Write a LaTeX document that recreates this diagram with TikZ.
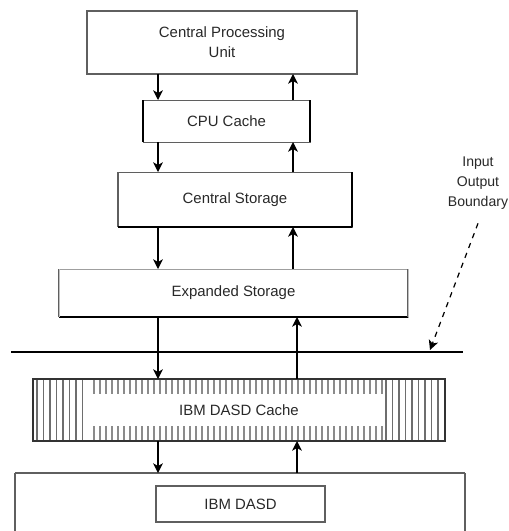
\documentclass[tikz,border=0pt]{standalone}
\usepackage{fontspec}
\setmainfont{Liberation Sans}
\usetikzlibrary{arrows.meta}
\definecolor{StoreGray}{RGB}{95, 95, 95}
\definecolor{StoreHatch}{RGB}{110, 110, 110}
\definecolor{StoreText}{RGB}{40, 40, 40}

\tikzset{
    unitbox/.style={draw=StoreGray, line width=0.5pt, outer sep=0pt, inner sep=0pt, align=center, text=StoreText},
    flow/.style={-{Stealth[length=5.5pt, width=5.5pt, inset=1.5pt]}, line width=0.85pt},
    heavyedge/.style={line width=1.6pt},
    hatch/.style={StoreHatch, line width=0.6pt}
}

\begin{document}
\begin{tikzpicture}[x=0.02cm, y=-0.02cm, font=\fontsize{8.5}{11.3}\selectfont]
    \useasboundingbox (0,0) rectangle (509,531);
    \clip (0,0) rectangle (509,531);
    \coordinate (dn) at (158,0);
    \coordinate (up) at (293,0);
    \coordinate (uplow) at (297,0);

    % Central Processing Unit
    \node[unitbox, line width=1.1pt, minimum width=5.4cm, minimum height=1.26cm] (cpu) at (222,42.5) {Central Processing\\Unit};

    % CPU Cache
    \node[unitbox, minimum width=3.34cm, minimum height=0.84cm] (ccache) at (226.5,121) {CPU Cache};
    \draw[heavyedge] (ccache.north west) -- (ccache.south west);
    \draw[heavyedge] (ccache.north east) -- (ccache.south east);

    % Central Storage
    \node[unitbox, minimum width=4.68cm, minimum height=1.1cm] (cstor) at (235,199.5) {Central Storage};
    \draw[StoreGray, line width=1pt] (cstor.north west) -- (cstor.south west);
    \draw[heavyedge] (cstor.north east) -- (cstor.south east);
    \draw[line width=0.8pt] (cstor.south west) -- (cstor.south east);

    % Expanded Storage
    \node[unitbox, draw=StoreGray!60, minimum width=6.98cm, minimum height=0.96cm] (estor) at (233.5,293) {Expanded Storage};
    \draw[line width=0.8pt] (estor.south west) -- (estor.south east);
    \draw[StoreGray, line width=1.6pt] (estor.north west) -- (estor.south west);
    \draw[StoreGray, line width=1.6pt] (estor.north east) -- (estor.south east);
    \draw[white!75!black, line width=0.5pt] (estor.north west) -- (estor.south west);
    \draw[white!75!black, line width=0.5pt] (estor.north east) -- (estor.south east);

    % Input/Output boundary
    \coordinate (bl) at (11,352);
    \coordinate (br) at (463,352);
    \draw[line width=0.8pt] (bl) -- (br);

    % IBM DASD Cache (hatched)
    \foreach \x in {37,43.5,...,88}
        \draw[hatch] (\x,379) -- (\x,441);
    \foreach \x in {94,100,...,382} {
        \draw[hatch, StoreHatch!80] (\x,379) -- (\x,394);
        \draw[hatch, StoreHatch!80] (\x,426) -- (\x,441);
    }
    \foreach \x in {386,392.5,...,442}
        \draw[hatch] (\x,379) -- (\x,441);
    \node[unitbox, draw=black!80, line width=0.9pt, minimum width=8.24cm, minimum height=1.24cm] (dcache) at (239,410) {IBM DASD Cache};

    % IBM DASD
    \node[minimum width=9cm, minimum height=1.74cm, outer sep=0pt] (dasd) at (240,516.5) {};
    \draw[StoreGray, line width=0.6pt] (dasd.north west) -- (dasd.north east);
    \draw[StoreGray, line width=1.1pt] (dasd.north west) -- (dasd.south west);
    \draw[StoreGray, line width=1.1pt] (dasd.north east) -- (dasd.south east);
    \node[unitbox, line width=0.9pt, minimum width=3.38cm, minimum height=0.72cm] (idasd) at (240.5,504) {IBM DASD};

    % Data paths
    \draw[flow] (cpu.south -| dn) -- (ccache.north -| dn);
    \draw[flow] (ccache.north -| up) -- (cpu.south -| up);
    \draw[flow] (ccache.south -| dn) -- (cstor.north -| dn);
    \draw[flow] (cstor.north -| up) -- (ccache.south -| up);
    \draw[flow] (cstor.south -| dn) -- (estor.north -| dn);
    \draw[flow] (estor.north -| up) -- (cstor.south -| up);
    \draw[flow] (estor.south -| dn) -- (dcache.north -| dn);
    \draw[flow] (dcache.north -| uplow) -- (estor.south -| uplow);
    \draw[flow] (dcache.south -| dn) -- (dasd.north -| dn);
    \draw[flow] (dasd.north -| uplow) -- (dcache.south -| uplow);

    % Boundary label
    \node[text=StoreText, align=center, font=\fontsize{8}{11.3}\selectfont] (iolabel) at (478,183) {Input\\Output\\Boundary};
    \coordinate (bnd) at (430,350);
    \draw[flow, dashed, line width=0.7pt] ([shift={(0,8)}]iolabel.south) -- (bnd);
\end{tikzpicture}
\end{document}
